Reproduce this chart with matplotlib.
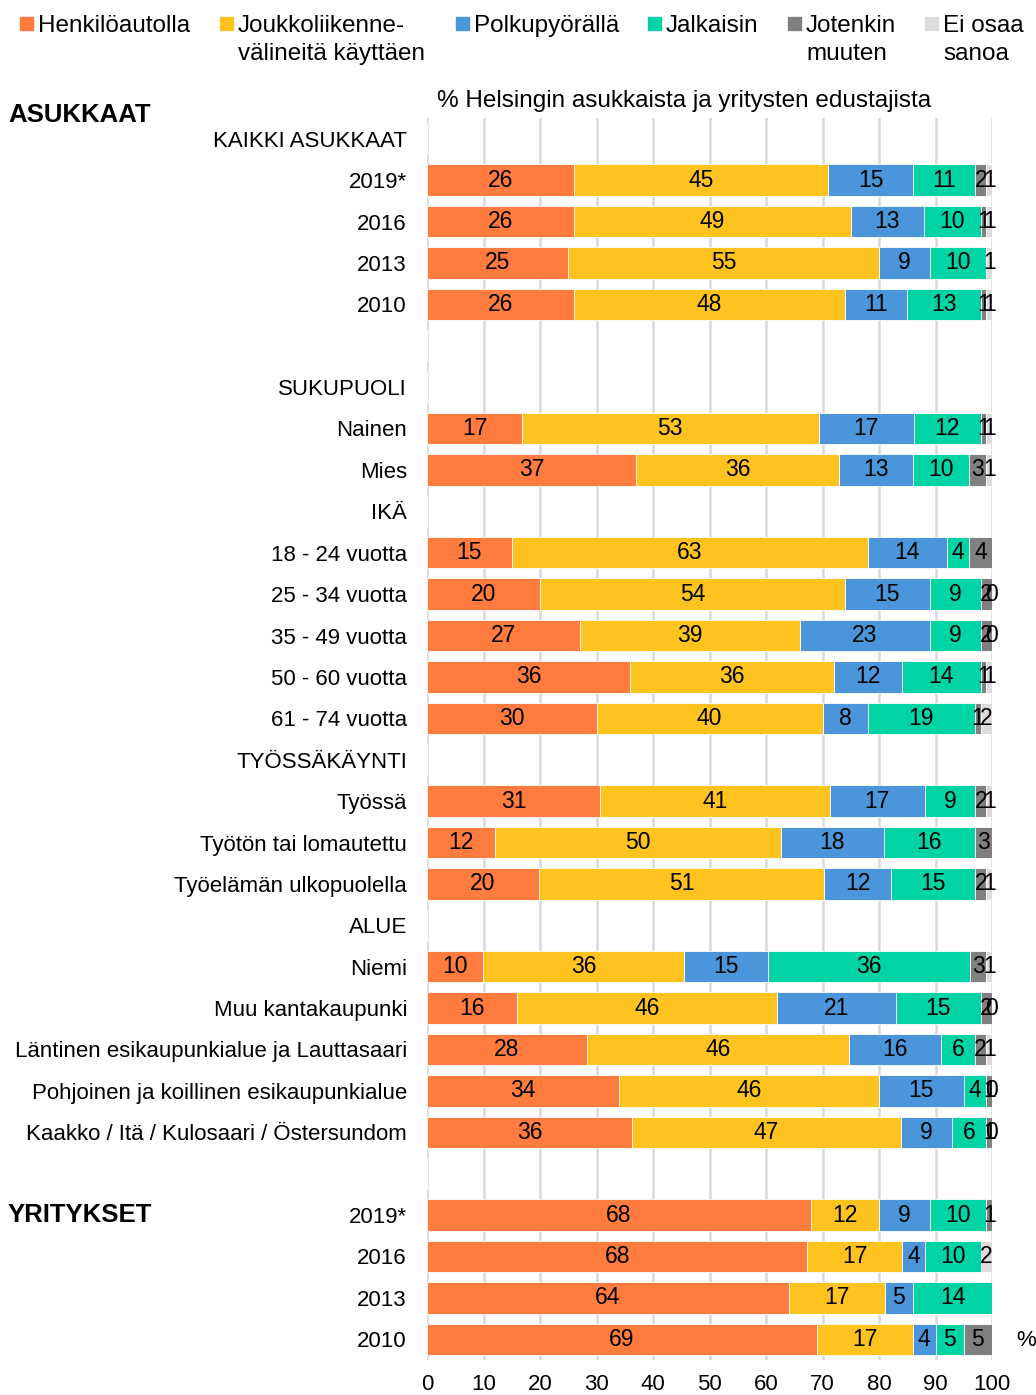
import numpy as np
import matplotlib
matplotlib.use("Agg")
import matplotlib.pyplot as plt
from matplotlib.patches import Rectangle

plt.rcParams['font.family'] = ['Liberation Sans', 'DejaVu Sans']

nan = np.nan
categories = [
    "KAIKKI ASUKKAAT", "2019*", "2016", "2013", "2010", "",
    "SUKUPUOLI", "Nainen", "Mies", "IKÄ",
    "18 - 24 vuotta", "25 - 34 vuotta", "35 - 49 vuotta", "50 - 60 vuotta", "61 - 74 vuotta",
    "TYÖSSÄKÄYNTI", "Työssä", "Työtön tai lomautettu", "Työelämän ulkopuolella",
    "ALUE", "Niemi", "Muu kantakaupunki", "Läntinen esikaupunkialue ja Lauttasaari",
    "Pohjoinen ja koillinen esikaupunkialue", "Kaakko / Itä / Kulosaari / Östersundom",
    "", "2019*", "2016", "2013", "2010",
]

henkiloauto = [nan, 26, 26, 25, 26, nan, nan, 17, 37, nan, 15, 20, 27, 36, 30,
               nan, 31, 12, 20, nan, 10, 16, 28, 34, 36, nan, 68, 68, 64, 69]
joukkoliikenne = [nan, 45, 49, 55, 48, nan, nan, 53, 36, nan, 63, 54, 39, 36, 40,
                  nan, 41, 50, 51, nan, 36, 46, 46, 46, 47, nan, 12, 17, 17, 17]
polkupyora = [nan, 15, 13, 9, 11, nan, nan, 17, 13, nan, 14, 15, 23, 12, 8,
              nan, 17, 18, 12, nan, 15, 21, 16, 15, 9, nan, 9, 4, 5, 4]
jalkaisin = [nan, 11, 10, 10, 13, nan, nan, 12, 10, nan, 4, 9, 9, 14, 19,
             nan, 9, 16, 15, nan, 36, 15, 6, 4, 6, nan, 10, 10, 14, 5]
jotenkin = [nan, 2, 1, nan, 1, nan, nan, 1, 3, nan, 4, 2, 2, 1, 1,
            nan, 2, 3, 2, nan, 3, 2, 2, 1, 1, nan, 1, nan, nan, 5]
ei_osaa = [nan, 1, 1, 1, 1, nan, nan, 1, 1, nan, nan, 0, 0, 1, 2,
           nan, 1, nan, 1, nan, 1, 0, 1, 0, 0, nan, nan, 2, nan, nan]

series_names = [["Henkilöautolla"], ["Joukkoliikenne-", "välineitä käyttäen"], ["Polkupyörällä"],
                ["Jalkaisin"], ["Jotenkin", "muuten"], ["Ei osaa", "sanoa"]]
series = [henkiloauto, joukkoliikenne, polkupyora, jalkaisin, jotenkin, ei_osaa]
colors = ["#FF7B3E", "#FFC31F", "#4B96DA", "#00D4A5", "#808080", "#DCDCDC"]
xticks = list(range(0, 101, 10))

W, H = 1036, 1395
fig = plt.figure(figsize=(W / 100, H / 100), dpi=100)
ax = fig.add_axes([427 / W, 1 - 1360 / H, (992 - 427) / W, (1360 - 118) / H])

data = np.array(series, dtype=float)  # (6, n)
n = len(categories)
y = np.arange(n)
vals = np.nan_to_num(data)
totals = vals.sum(axis=0)
totals[totals == 0] = 1
scaled = vals / totals * 100
left = np.zeros(n)
for i in range(6):
    w = scaled[i]
    ax.barh(y, w, left=left, height=0.76, color=colors[i], edgecolor="white",
            linewidth=0.6, zorder=3)
    for j in range(n):
        if not np.isnan(data[i, j]):
            ax.text(left[j] + w[j] / 2, y[j], f"{int(data[i, j])}", ha="center",
                    va="center", fontsize=16.5, color="black", zorder=4)
    left = left + w

ax.set_xlim(0, 100)
ax.set_ylim(n - 0.5, -0.5)
ax.set_yticks(y)
ax.set_yticklabels(categories, fontsize=16)
ax.set_xticks(xticks)
ax.set_xticklabels([str(t) for t in xticks], fontsize=16)
ax.tick_params(axis="y", length=0, pad=14.4)
ax.tick_params(axis="x", length=0, pad=10)
for s in ax.spines.values():
    s.set_visible(False)
ax.grid(axis="x", color="#D9D9D9", linewidth=1.8, zorder=0)
ax.set_axisbelow(True)

# title and headers
fig.text(684 / W, 1 - 101 / H, "% Helsingin asukkaista ja yritysten edustajista",
         ha="center", va="center", fontsize=17.5)
fig.text(8 / W, 1 - 115 / H, "ASUKKAAT", ha="left", va="center", fontsize=18.5,
         fontweight="bold")
fig.text(8 / W, 1 - 1215 / H, "YRITYKSET", ha="left", va="center", fontsize=18.5,
         fontweight="bold")
fig.text(1016 / W, 1 - 1341 / H, "%", ha="left", va="center", fontsize=16)

# legend
leg_x = [20, 220, 456, 648, 788, 925]
for xi, lines, c in zip(leg_x, series_names, colors):
    fig.patches.append(Rectangle((xi / W, 1 - 30 / H), 13 / W, 13 / H, color=c,
                                 transform=fig.transFigure, figure=fig))
    for k, line in enumerate(lines):
        fig.text((xi + 18) / W, 1 - (32 + 28 * k) / H, line, ha="left",
                 va="baseline", fontsize=17.5)

fig.savefig("out.png", dpi=100)
